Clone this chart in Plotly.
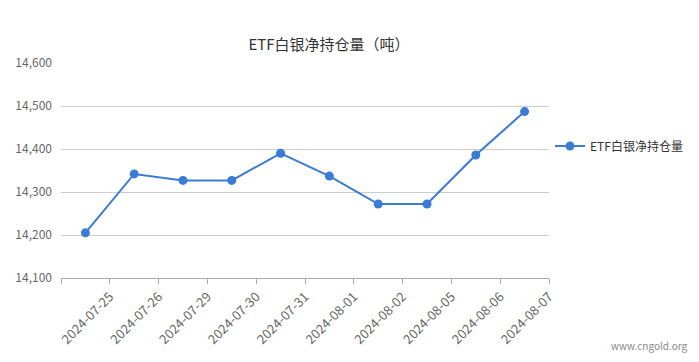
import plotly.graph_objects as go

dates = ["2024-07-25", "2024-07-26", "2024-07-29", "2024-07-30", "2024-07-31",
         "2024-08-01", "2024-08-02", "2024-08-05", "2024-08-06", "2024-08-07"]
values = [14205, 14342, 14327, 14327, 14390, 14337, 14272, 14272, 14386, 14487]
series_name = "ETF白银净持仓量"
title_text = "ETF白银净持仓量（吨）"
y_ticks = [14100, 14200, 14300, 14400, 14500, 14600]

idx = list(range(len(dates)))
tickvals = [i - 0.5 for i in range(len(dates) + 1)]
ticktext = [""] + dates

FONT = "Microsoft YaHei, Noto Sans CJK SC, sans-serif"
W, H = 699, 362
L, R, T, B = 61, 149, 63, 84
PW, PH = W - L - R, H - T - B

fig = go.Figure()
fig.add_trace(go.Scatter(
    x=idx, y=values, mode="lines+markers", name=series_name,
    line=dict(color="#3a7bd5", width=2),
    marker=dict(color="#3a7bd5", size=9),
))

fig.update_layout(
    width=W, height=H,
    margin=dict(l=L, r=R, t=T, b=B),
    paper_bgcolor="white", plot_bgcolor="white",
    font=dict(family=FONT, size=12, color="#666"),
    title=dict(text=title_text, x=329 / W, xanchor="center", y=1 - 45 / H, yanchor="middle",
               font=dict(family=FONT, size=15, color="#333")),
    showlegend=True,
    legend=dict(x=1.0, xanchor="left", y=0.614, yanchor="middle",
                font=dict(family=FONT, size=12, color="#333"),
                itemwidth=30, bgcolor="rgba(0,0,0,0)", borderwidth=0),
    xaxis=dict(range=[-0.5, len(dates) - 0.5], tickmode="array", tickvals=tickvals, ticktext=ticktext,
               tickangle=-45, showgrid=False, zeroline=False, automargin=False,
               showline=True, linecolor="#aaa", linewidth=1,
               ticks="outside", ticklen=5, tickcolor="#aaa",
               tickfont=dict(family=FONT, size=13, color="#666")),
    yaxis=dict(range=[14100, 14600], tickmode="array", tickvals=y_ticks, automargin=False,
               tickformat=",d", showgrid=True, gridcolor="#ccc", gridwidth=1,
               zeroline=False, showline=False, ticks="", ticklabelstandoff=8,
               tickfont=dict(family=FONT, size=12, color="#666")),
)

fig.add_annotation(text="www.cngold.org", xref="paper", yref="paper",
                   x=(691 - L) / PW, xanchor="right",
                   y=-(345 - (H - B)) / PH, yanchor="middle", showarrow=False,
                   font=dict(family=FONT, size=10, color="#888"))

fig.write_html("out.html", config={"displayModeBar": False},
               post_script="document.body.style.margin='0';document.body.style.padding='0';")
